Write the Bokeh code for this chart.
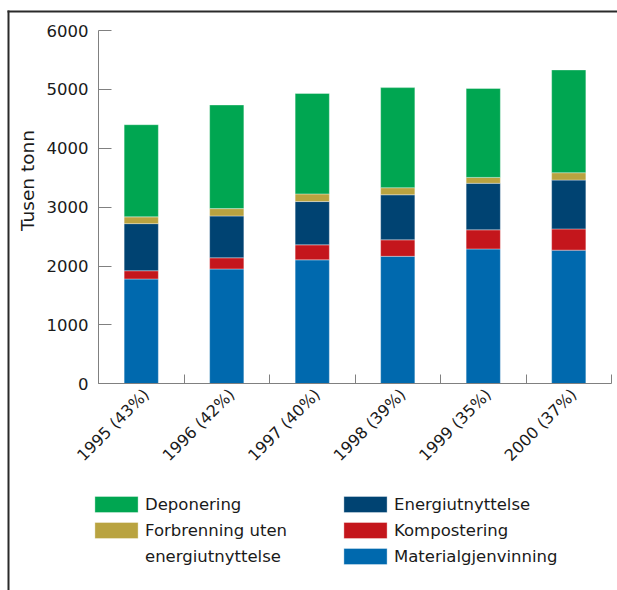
import numpy as np
from bokeh.plotting import figure
from bokeh.models import Range1d, FixedTicker, Legend, LegendItem, BoxAnnotation, Label
from bokeh.embed import file_html
from bokeh.resources import INLINE

years = ["1995 (43%)", "1996 (42%)", "1997 (40%)", "1998 (39%)", "1999 (35%)", "2000 (37%)"]
materialgjenvinning = [1780, 1950, 2105, 2165, 2290, 2270]
kompostering = [140, 190, 255, 280, 325, 360]
energiutnyttelse = [800, 710, 735, 765, 790, 830]
forbrenning = [115, 125, 130, 120, 100, 125]
deponering = [1565, 1760, 1705, 1700, 1510, 1745]
y_ticks = [0, 1000, 2000, 3000, 4000, 5000, 6000]

series = ["materialgjenvinning", "kompostering", "energiutnyttelse", "forbrenning", "deponering"]
labels = ["Materialgjenvinning", "Kompostering", "Energiutnyttelse",
          "Forbrenning uten", "Deponering"]
label_cont = "energiutnyttelse"
colors = ["#0069AE", "#C4161C", "#004372", "#B9A340", "#00A651"]

FONT = "DejaVu Sans"
W, H = 617, 590
# plot-area placement on the canvas (pixels)
PX0, PX1, PY0, PY1 = 98.0, 611.0, 383.3, 30.0
n = len(years)
YMAX = 6000
sx = (PX1 - PX0) / n
sy = (PY0 - PY1) / YMAX
x_range = Range1d(-PX0 / sx, (W - PX0) / sx)
y_range = Range1d(-(H - PY0) / sy, PY0 / sy)

xc = list(np.arange(n) + 0.5)
data = dict(x=xc, materialgjenvinning=materialgjenvinning, kompostering=kompostering,
            energiutnyttelse=energiutnyttelse, forbrenning=forbrenning, deponering=deponering)

p = figure(width=W, height=H, output_backend="svg", toolbar_location=None,
           x_range=x_range, y_range=y_range,
           min_border_left=0, min_border_right=0, min_border_top=0, min_border_bottom=0)
p.outline_line_color = None
p.grid.grid_line_color = None
p.background_fill_color = "white"
p.border_fill_color = "white"

rs = p.vbar_stack(series, x="x", width=0.4, source=data, fill_color=colors,
                  line_color="white", line_alpha=0.35, line_width=1)
# invisible renderer used only for the second line of a legend label
blank = p.vbar(x=[], top=[], width=0.4, fill_alpha=0, line_alpha=0)

AX = "#808080"
yax = p.yaxis[0]
yax.fixed_location = 0
yax.bounds = (0, YMAX)
yax.ticker = FixedTicker(ticks=y_ticks)
yax.axis_line_color = AX
yax.major_tick_line_color = AX
yax.major_tick_in = 13
yax.major_tick_out = 0
yax.minor_tick_line_color = None
yax.major_label_text_font = FONT
yax.major_label_text_font_size = "16.5px"
yax.major_label_text_color = "#1a1a1a"
yax.major_label_standoff = 10

# tick labels sit a few pixels right of the bar centres, as in the original
label_shift = 5 / sx
label_pos = [v + label_shift for v in xc]
xax = p.xaxis[0]
xax.fixed_location = 0
xax.bounds = (0, n)
xax.ticker = FixedTicker(ticks=label_pos, minor_ticks=list(range(0, n + 1)))
xax.major_label_overrides = {float(v): years[i] for i, v in enumerate(label_pos)}
xax.major_label_orientation = np.pi / 4
xax.axis_line_color = AX
xax.major_tick_line_color = None
xax.major_tick_in = 0
xax.major_tick_out = 0
xax.minor_tick_line_color = AX
xax.minor_tick_in = 9
xax.minor_tick_out = 0
xax.major_label_text_font = FONT
xax.major_label_text_font_size = "16px"
xax.major_label_text_color = "#1a1a1a"
xax.major_label_standoff = 8

p.add_layout(Label(x=27, y=180, x_units="canvas", y_units="canvas", text="Tusen tonn",
                   angle=np.pi / 2, text_align="center", text_baseline="middle",
                   text_font=FONT, text_font_size="18.5px", text_color="#1a1a1a"))

def canvas_box(left, right, top, bottom, color):
    return BoxAnnotation(left=left, right=right, top=top, bottom=bottom,
                         left_units="canvas", right_units="canvas",
                         top_units="canvas", bottom_units="canvas",
                         fill_color=color, fill_alpha=1, line_color=None)

# page frame: thin lines along the top and left edges only
FR = "#2a2a2a"
p.add_layout(canvas_box(7, W, 10, 12, FR))
p.add_layout(canvas_box(7, 9, 10, H, FR))

def mk_legend(items, loc):
    lg = Legend(items=items, location=loc, orientation="vertical")
    lg.glyph_width = 54
    lg.glyph_height = 20
    lg.label_standoff = 2
    lg.spacing = 6
    lg.padding = 0
    lg.margin = 0
    lg.border_line_color = None
    lg.background_fill_alpha = 0
    lg.label_text_font = FONT
    lg.label_text_font_size = "16.5px"
    lg.label_text_color = "#1a1a1a"
    lg.click_policy = "none"
    return lg

items1 = [LegendItem(label=labels[4], renderers=[rs[4]]),
          LegendItem(label=labels[3], renderers=[rs[3]]),
          LegendItem(label=label_cont, renderers=[blank])]
items2 = [LegendItem(label=labels[i], renderers=[rs[i]]) for i in (2, 1, 0)]
p.add_layout(mk_legend(items1, (89, 24)))
p.add_layout(mk_legend(items2, (338, 24)))

open("out.html", "w").write(file_html(p, INLINE))
